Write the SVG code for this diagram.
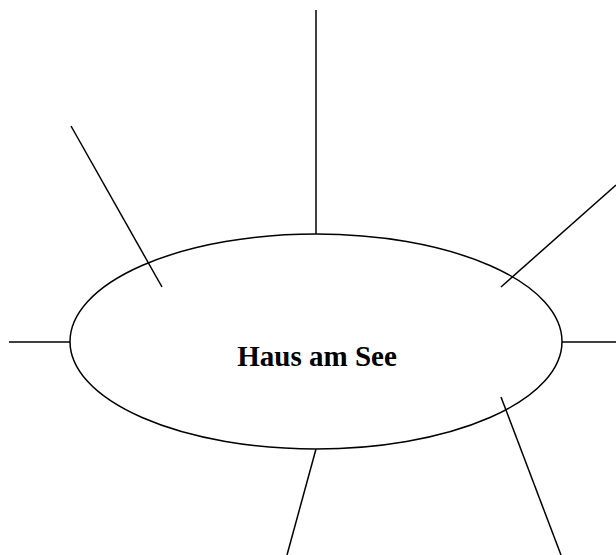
<svg xmlns="http://www.w3.org/2000/svg" width="616" height="555" viewBox="0 0 616 555">
<style>
.ln{stroke:#000;stroke-width:1.5;fill:none}
.lbl{font-family:"Liberation Serif","Times New Roman",serif;font-weight:bold;font-size:29px;fill:#000}
</style>
<rect width="616" height="555" fill="#fff"/>
<g id="connectors">
<line class="ln" x1="316" y1="10" x2="316" y2="234"/>
<line class="ln" x1="71" y1="126" x2="162" y2="287"/>
<line class="ln" x1="616" y1="185" x2="501" y2="287"/>
<line class="ln" x1="9" y1="342" x2="70" y2="342"/>
<line class="ln" x1="562" y1="342" x2="616" y2="342"/>
<line class="ln" x1="501" y1="397" x2="561" y2="555"/>
<line class="ln" x1="316" y1="449" x2="287" y2="555"/>
</g>
<g id="center">
<ellipse class="ln" cx="316" cy="341.5" rx="246" ry="107.5"/>
<text class="lbl" x="317" y="366" text-anchor="middle">Haus am See</text>
</g>
</svg>
